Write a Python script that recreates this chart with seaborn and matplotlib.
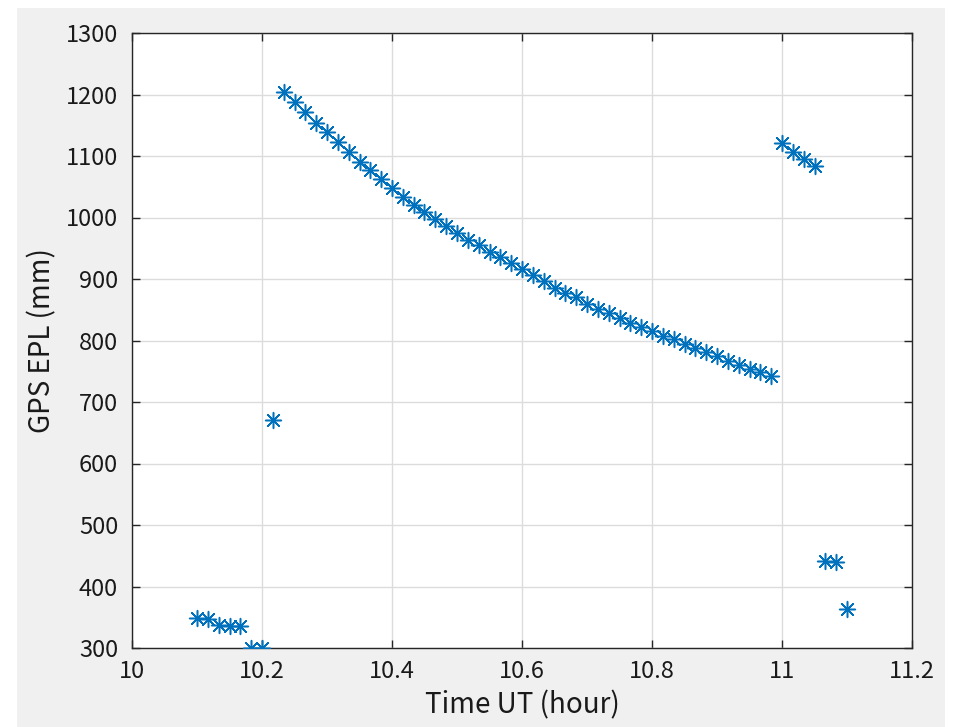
import seaborn as sns
import matplotlib.pyplot as plt
import pandas as pd
from matplotlib.patches import Rectangle

# minutes after 10:00 UT, one sample per minute
minutes = [6, 7, 8, 9, 10, 11, 12, 13,
           14, 15, 16, 17, 18, 19, 20, 21, 22, 23,
           24, 25, 26, 27, 28, 29, 30, 31, 32, 33,
           34, 35, 36, 37, 38, 39, 40, 41, 42, 43,
           44, 45, 46, 47, 48, 49, 50, 51, 52, 53,
           54, 55, 56, 57, 58, 59,
           60, 61, 62, 63, 64, 65, 66]
epl_mm = [348, 347, 338, 336, 335, 300, 300, 671,
          1204, 1188, 1171, 1154, 1139, 1123, 1107, 1091, 1078, 1063,
          1048, 1034, 1020, 1009, 997, 986, 974, 964, 955, 944,
          935, 926, 916, 906, 896, 886, 878, 870, 860, 852,
          844, 836, 829, 822, 815, 808, 802, 794, 787, 781,
          774, 767, 760, 754, 748, 742,
          1121, 1106, 1095, 1083, 441, 440, 363]

xticks = [10, 10.2, 10.4, 10.6, 10.8, 11, 11.2]
xlabels = ["10", "10.2", "10.4", "10.6", "10.8", "11", "11.2"]
yticks = [300, 400, 500, 600, 700, 800, 900, 1000, 1100, 1200, 1300]

df = pd.DataFrame({"minute": minutes, "epl": epl_mm})
df["time"] = 10 + df["minute"] / 60

sns.set_style("whitegrid")
plt.rcParams["font.family"] = ["Noto Sans CJK JP", "DejaVu Sans"]

fig = plt.figure(figsize=(9.55, 7.27), dpi=100, facecolor="white")
fig.patches.append(Rectangle((17 / 955, 0), 928 / 955, 719 / 727,
                             transform=fig.transFigure, facecolor="#f0f0f0",
                             edgecolor="none", zorder=-10))
ax = fig.add_axes([132 / 955, 79 / 727, 780 / 955, 615 / 727])

sns.scatterplot(data=df, x="time", y="epl", ax=ax, marker=(8, 2, 0), s=130,
                color="#0072BD", edgecolor="#0072BD", linewidth=1.1,
                legend=False, zorder=3)

ax.set_xlim(10, 11.2)
ax.set_ylim(300, 1300)
ax.set_xticks(xticks)
ax.set_xticklabels(xlabels)
ax.set_yticks(yticks)
ax.grid(True, color="#dcdcdc", linewidth=1)
for s in ax.spines.values():
    s.set_color("#262626")
    s.set_linewidth(1)
ax.tick_params(direction="in", length=6, width=1, color="#262626",
               labelsize=17, labelcolor="#1a1a1a", top=True, right=True,
               left=True, bottom=True)
ax.tick_params(axis="y", pad=10)
ax.tick_params(axis="x", pad=9)
ax.set_xlabel("Time UT (hour)", fontsize=20, color="#1a1a1a", labelpad=5)
ax.set_ylabel("GPS EPL (mm)", fontsize=20, color="#1a1a1a", labelpad=6)

plt.savefig("out.png", dpi=100, facecolor=fig.get_facecolor())
